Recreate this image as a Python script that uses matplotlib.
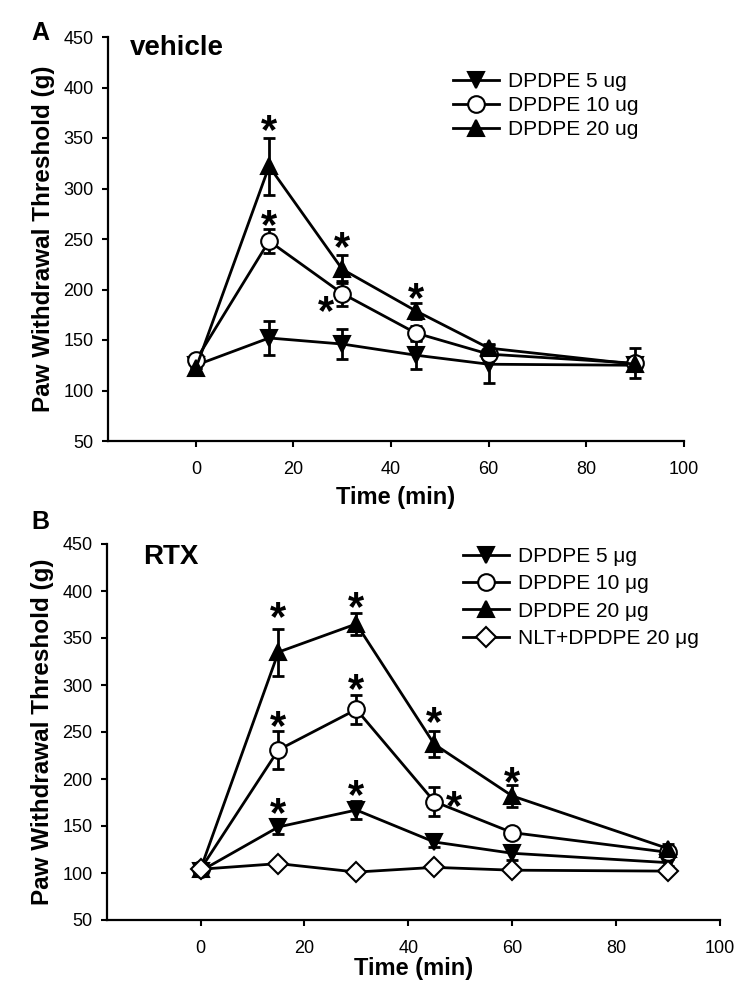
import numpy as np
import matplotlib.pyplot as plt

plt.rcParams['font.family'] = ['Liberation Sans', 'DejaVu Sans']

time = [0, 15, 30, 45, 60, 90]

# panel A (vehicle)
a_5 = [125, 152, 146, 135, 126, 125]
a_5_err = [0, 17, 15, 14, 19, 0]
a_10 = [130, 248, 196, 157, 136, 127]
a_10_err = [0, 12, 12, 7, 5, 15]
a_20 = [122, 322, 220, 179, 142, 126]
a_20_err = [0, 28, 14, 8, 4, 0]
a_stars_x = [15, 15, 30, 26.7, 45]
a_stars_y = [368, 274, 252, 189, 202]

# panel B (RTX)
b_5 = [102, 149, 167, 133, 121, 111]
b_5_err = [0, 8, 10, 5, 7, 4]
b_10 = [104, 231, 274, 176, 143, 122]
b_10_err = [0, 20, 15, 15, 4, 5]
b_20 = [104, 335, 365, 237, 182, 126]
b_20_err = [0, 25, 12, 14, 12, 5]
b_nlt = [104, 110, 101, 106, 103, 102]
b_stars_x = [15, 15, 15, 30, 30, 30, 45, 48.8, 60]
b_stars_y = [383, 268, 175, 394, 307, 194, 272, 182, 208]

W, H = 750, 989
fig = plt.figure(figsize=(W / 100, H / 100), dpi=100)


def px_axes(left, right, top, bottom):
    return fig.add_axes([left / W, 1 - bottom / H, (right - left) / W, (bottom - top) / H])


def style_axes(ax, xpad):
    for s in ['top', 'right']:
        ax.spines[s].set_visible(False)
    for s in ['left', 'bottom']:
        ax.spines[s].set_linewidth(1.6)
    ax.set_xlim(-18, 100)
    ax.set_ylim(50, 450)
    ax.set_xticks(range(0, 101, 20))
    ax.set_yticks(range(50, 451, 50))
    ax.tick_params(axis='both', direction='out', length=4.5, width=1.5, labelsize=13)
    ax.tick_params(axis='x', pad=10)
    ax.tick_params(axis='y', pad=6)
    ax.set_xlabel('Time (min)', fontsize=17, fontweight='bold', labelpad=xpad)
    ax.set_ylabel('Paw Withdrawal Threshold (g)', fontsize=17.5, fontweight='bold', labelpad=6)


def series(ax, y, err, marker, ms, face, label):
    if err is not None:
        ax.errorbar(time, y, yerr=err, fmt='none', ecolor='black', elinewidth=2,
                    capsize=4.5, capthick=2, zorder=2)
    line, = ax.plot(time, y, color='black', lw=2, marker=marker, ms=ms,
                    mfc=face, mec='black', mew=1.5, label=label, zorder=3)
    return line


def stars(ax, xs, ys, fs=30):
    for x, y in zip(xs, ys):
        ax.annotate('*', (x, y), xytext=(0, -0.3 * fs), textcoords='offset points',
                    ha='center', va='center', fontsize=fs, fontweight='bold')


# ---- panel A
axA = px_axes(108, 684, 37, 441)
style_axes(axA, 6)
h1 = series(axA, a_5, a_5_err, 'v', 11, 'black', 'DPDPE 5 ug')
h2 = series(axA, a_10, a_10_err, 'o', 12, 'white', 'DPDPE 10 ug')
h3 = series(axA, a_20, a_20_err, '^', 11, 'black', 'DPDPE 20 ug')
stars(axA, a_stars_x, a_stars_y)
axA.legend(handles=[h1, h2, h3], loc='upper left', bbox_to_anchor=(453 / W, 1 - 72 / H),
           bbox_transform=fig.transFigure, frameon=False, fontsize=15,
           handlelength=2.2, handletextpad=0.45, labelspacing=0.25,
           borderpad=0, borderaxespad=0)
fig.text(130 / W, 1 - 48 / H, 'vehicle', fontsize=20, fontweight='bold', va='center')
fig.text(40 / W, 1 - 33 / H, 'A', fontsize=18, fontweight='bold', va='center', ha='center')

# ---- panel B
axB = px_axes(107, 720, 544, 920)
style_axes(axB, 0)
g1 = series(axB, b_5, b_5_err, 'v', 11, 'black', 'DPDPE 5 \u03bcg')
g2 = series(axB, b_10, b_10_err, 'o', 12, 'white', 'DPDPE 10 \u03bcg')
g3 = series(axB, b_20, b_20_err, '^', 11, 'black', 'DPDPE 20 \u03bcg')
g4 = series(axB, b_nlt, None, 'D', 10, 'white', 'NLT+DPDPE 20 \u03bcg')
stars(axB, b_stars_x, b_stars_y)
axB.legend(handles=[g1, g2, g3, g4], loc='upper left', bbox_to_anchor=(463 / W, 1 - 547 / H),
           bbox_transform=fig.transFigure, frameon=False, fontsize=15,
           handlelength=2.2, handletextpad=0.45, labelspacing=0.4,
           borderpad=0, borderaxespad=0)
fig.text(143 / W, 1 - 557 / H, 'RTX', fontsize=20, fontweight='bold', va='center')
fig.text(40 / W, 1 - 522 / H, 'B', fontsize=18, fontweight='bold', va='center', ha='center')

fig.savefig('out.png', dpi=100)
